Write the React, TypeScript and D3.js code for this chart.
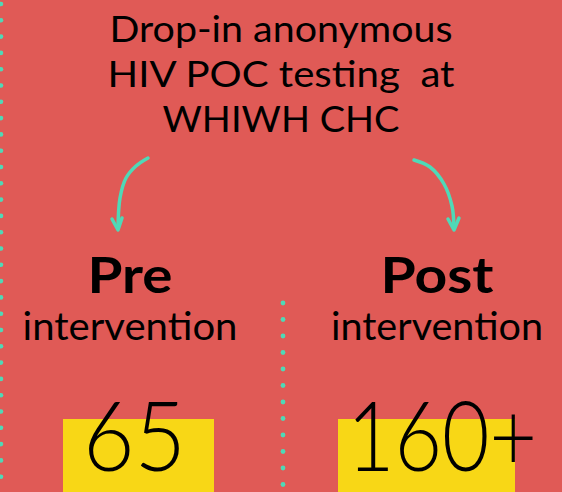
import React from 'react';
import * as d3 from 'd3';

const titleLines = ['Drop-in anonymous', 'HIV POC testing  at', 'WHIWH CHC'];
const categories = ['Pre', 'Post'];
const subLabels = ['intervention', 'intervention'];
const counts = ['65', '160+'];

const W = 562;
const H = 492;
const BG = '#E05A56';
const TEAL = '#4FD9B7';
const YELLOW = '#F8D716';
const FONT = 'Lato, "Open Sans", sans-serif';

// arrow paths (hand-drawn look)
const arrowLeft: [number, number][] = [[148, 158], [136, 166], [126, 178], [120, 198], [118, 228]];
const arrowRight: [number, number][] = [[414, 160], [430, 167], [444, 184], [452, 206], [454, 228]];

// widths to stretch text to (reference font is wider than Lato)
const titleWidths = [343, 347, 237];
const headWidths = [85, 113];
const subWidths = [215, 212];
const countWidths = [103, 190];

const App = () => {
  const x = d3.scalePoint<string>().domain(categories).range([130, 437]);
  const line = d3.line().curve(d3.curveCatmullRom.alpha(0.5));

  const edgeDots = d3.range(4, H, 16.3);
  const midDots = d3.range(303, H - 4, 16.5);

  const head = (p: [number, number], dir: number) => (
    <path
      d={`M${p[0] - 6},${p[1] - 9} L${p[0]},${p[1] + 2} L${p[0] + 4 + dir},${p[1] - 10}`}
      fill="none"
      stroke={TEAL}
      strokeWidth={3.5}
      strokeLinecap="round"
      strokeLinejoin="round"
    />
  );

  // yellow box extents and number start x
  const boxes = [
    { x0: 63, x1: 214, tx: 83 },
    { x0: 338, x1: 515, tx: 347 },
  ];

  return (
    <svg width={W} height={H} style={{ position: 'absolute', left: 0, top: 0, background: BG }}>
      <rect width={W} height={H} fill={BG} />
      {edgeDots.map((y, i) => (
        <circle key={'e' + i} cx={1} cy={y} r={2.3} fill={TEAL} />
      ))}
      {midDots.map((y, i) => (
        <circle key={'m' + i} cx={283} cy={y} r={2.4} fill={TEAL} />
      ))}

      {titleLines.map((t, i) => (
        <text
          key={t}
          x={281}
          y={42 + i * 45}
          textAnchor="middle"
          fontFamily={FONT}
          fontSize={37}
          fill="#000"
          style={{ whiteSpace: 'pre' }}
          textLength={titleWidths[i]}
          lengthAdjust="spacingAndGlyphs"
        >
          {t}
        </text>
      ))}

      <path d={line(arrowLeft) || ''} fill="none" stroke={TEAL} strokeWidth={3.5} strokeLinecap="round" />
      {head(arrowLeft[arrowLeft.length - 1], 0)}
      <path d={line(arrowRight) || ''} fill="none" stroke={TEAL} strokeWidth={3.5} strokeLinecap="round" />
      {head(arrowRight[arrowRight.length - 1], 1)}

      {categories.map((c, i) => (
        <g key={c}>
          <text
            x={x(c)}
            y={293}
            textAnchor="middle"
            fontFamily={FONT}
            fontWeight={700}
            fontSize={50}
            fill="#000"
            textLength={headWidths[i]}
            lengthAdjust="spacingAndGlyphs"
          >
            {c}
          </text>
          <text
            x={x(c)}
            y={340}
            textAnchor="middle"
            fontFamily={FONT}
            fontSize={38}
            fill="#000"
            textLength={subWidths[i]}
            lengthAdjust="spacingAndGlyphs"
          >
            {subLabels[i]}
          </text>
          <rect x={boxes[i].x0} y={419} width={boxes[i].x1 - boxes[i].x0} height={H - 419} fill={YELLOW} />
          <text
            x={boxes[i].tx}
            y={471}
            fontFamily={FONT}
            fontWeight={300}
            fontSize={96}
            fill="#000"
            textLength={countWidths[i]}
            lengthAdjust="spacingAndGlyphs"
          >
            {counts[i]}
          </text>
        </g>
      ))}
    </svg>
  );
};

export default App;
